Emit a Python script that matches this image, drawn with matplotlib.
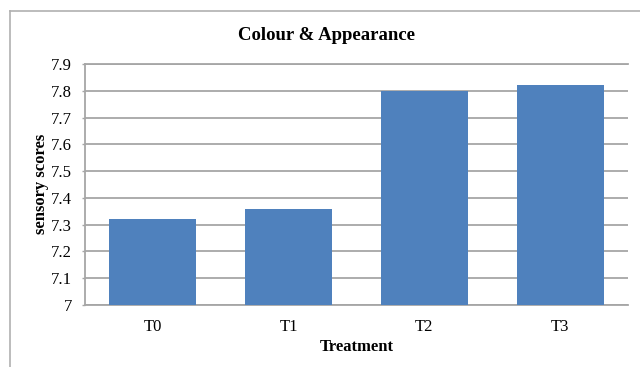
import matplotlib
matplotlib.use("Agg")
import matplotlib.pyplot as plt
from matplotlib.lines import Line2D

treatments = ["T0", "T1", "T2", "T3"]
scores = [7.32, 7.36, 7.80, 7.82]
y_ticks = [7.0, 7.1, 7.2, 7.3, 7.4, 7.5, 7.6, 7.7, 7.8, 7.9]
y_tick_labels = ["7", "7.1", "7.2", "7.3", "7.4", "7.5", "7.6", "7.7", "7.8", "7.9"]

plt.rcParams["font.family"] = ["Liberation Serif", "DejaVu Serif"]

W, H = 640, 367
fig = plt.figure(figsize=(W / 100, H / 100), dpi=100)
ax = fig.add_axes([85 / W, 1 - 305 / H, (628 - 85) / W, (305 - 64) / H])

grid_col = "#a6a6a6"
ax.bar(range(len(treatments)), scores, width=0.64, color="#4F81BD",
       edgecolor="none", zorder=3)
ax.set_ylim(7.0, 7.9)
ax.set_xlim(-0.5, len(treatments) - 0.5)
ax.set_yticks(y_ticks)
ax.set_yticklabels(y_tick_labels, fontsize=12)
ax.set_xticks(range(len(treatments)))
ax.set_xticklabels(treatments, fontsize=12)
ax.tick_params(axis="x", length=0, pad=10)
ax.tick_params(axis="y", length=2.2, width=1.0, color=grid_col, pad=7.2)
ax.yaxis.grid(True, color=grid_col, linewidth=1.3, zorder=0)
ax.set_axisbelow(True)
for side in ("left", "bottom", "top"):
    ax.spines[side].set_color(grid_col)
    ax.spines[side].set_linewidth(1.3)
ax.spines["right"].set_visible(False)

fig.text(41 / W, 1 - 184 / H, "sensory scores", fontsize=12, fontweight="bold",
         rotation=90, ha="center", va="center")
fig.text(357 / W, 1 - 347 / H, "Treatment", fontsize=12, fontweight="bold",
         ha="center", va="center")
fig.text(327 / W, 1 - 35 / H, "Colour & Appearance",
         fontsize=13.5, fontweight="bold", ha="center", va="center")

# outer chart frame
fig.add_artist(Line2D([10 / W, 1.0], [1 - 11 / H, 1 - 11 / H],
                      color="#b0b0b0", linewidth=1.2))
fig.add_artist(Line2D([10 / W, 10 / W], [0.0, 1 - 11 / H],
                      color="#b0b0b0", linewidth=1.2))

fig.savefig("out.png", dpi=100, facecolor="white")
